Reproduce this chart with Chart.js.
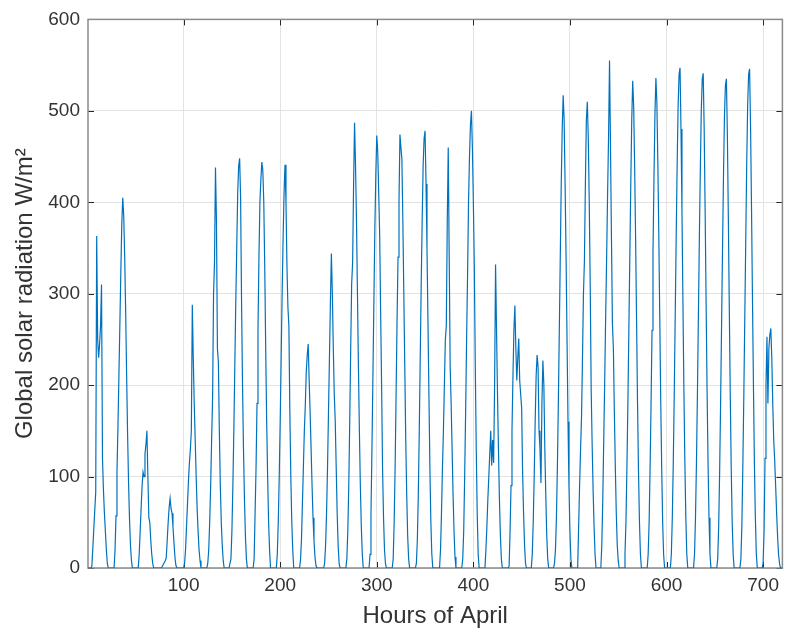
<!DOCTYPE html>
<html>
<head>
<meta charset="utf-8">
<script src="https://cdn.jsdelivr.net/npm/chart.js@4.4.0/dist/chart.umd.min.js"></script>
<style>
  body { margin: 0; background: #fff; }
  #wrap { width: 785px; height: 635px; }
</style>
</head>
<body>
<div id="wrap"><canvas id="myChart"></canvas></div>
<script>
// hourly global solar radiation in W/m2, one array per day of April (hours 1..24)
const day01 = [0,0,0,0,2,22,43,63,83,363,250,230,245,265,310,120,85,60,40,20,5,0,0,0];
const day02 = [0,0,0,0,20,57,105,154,210,267,324,377,405,385,340,280,210,146,93,53,24,8,0,0];
const day03 = [0,0,0,0,0,15,40,65,90,105,100,125,135,150,100,55,50,30,15,5,0,0,0,0];
const day04 = [0,0,0,0,0,2,4,6,8,11,30,50,66,76,65,60,45,28,12,3,0,0,0,0];
const day05 = [0,0,0,0,5,20,45,70,95,115,130,150,288,230,180,140,100,65,40,20,8,0,0,0];
const day06 = [0,0,0,0,5,20,50,90,140,186,300,335,438,380,240,225,150,90,50,25,8,0,0,0];
const day07 = [0,0,0,0,10,40,90,150,220,290,350,410,440,448,405,291,200,130,75,35,10,0,0,0];
const day08 = [0,0,0,0,10,60,110,180,260,340,400,425,444,435,400,330,240,160,100,50,20,0,0,0];
const day09 = [0,0,0,0,15,50,100,160,230,300,360,410,441,400,330,285,265,170,100,50,20,0,0,0];
const day10 = [0,0,0,0,8,30,70,110,150,178,215,233,245,205,170,130,90,55,30,12,3,0,0,0];
const day11 = [0,0,0,0,0,5,25,60,110,170,230,290,344,300,240,190,160,110,60,25,5,0,0,0];
const day12 = [0,0,0,0,10,40,90,160,240,311,334,420,487,440,380,300,220,150,90,45,15,0,0,0];
const day13 = [0,0,0,0,15,60,130,210,290,370,430,473,455,410,365,280,200,108,55,20,5,0,0,0];
const day14 = [0,0,0,0,10,50,110,190,270,340,400,474,460,447,380,300,220,140,80,35,10,0,0,0];
const day15 = [0,0,0,0,5,30,80,150,230,310,380,440,470,478,420,350,270,190,110,50,15,0,0,0];
const day16 = [0,0,0,0,0,20,60,110,150,200,250,265,380,460,340,220,180,130,80,40,12,0,0,0];
const day17 = [0,0,0,0,10,40,100,170,250,320,400,450,485,500,460,400,330,220,130,60,15,0,0,0];
const day18 = [0,0,0,0,20,45,75,100,125,150,112,140,115,200,332,260,190,130,75,35,10,0,0,0];
const day19 = [0,0,0,0,2,40,90,150,210,260,287,240,205,230,251,205,190,175,105,60,25,5,0,0];
const day20 = [0,0,0,0,15,50,100,160,210,233,220,150,130,93,180,227,200,130,80,35,10,0,0,0];
const day21 = [0,0,0,5,20,55,110,180,260,340,420,480,517,490,420,340,250,160,90,40,10,0,0,0];
const day22 = [0,0,0,0,45,90,130,165,230,300,336,420,490,510,470,400,310,195,135,85,45,15,0,0];
const day23 = [0,0,0,0,25,75,140,205,275,340,410,472,555,460,360,267,240,170,110,60,25,8,0,0];
const day24 = [0,0,0,0,15,50,110,180,260,340,420,490,533,505,440,360,270,180,105,50,15,0,0,0];
const day25 = [0,0,0,0,15,50,110,180,260,345,425,495,536,510,445,365,275,185,110,50,15,0,0,0];
const day26 = [0,0,0,0,15,55,115,190,275,360,440,505,540,547,480,390,290,195,115,55,15,0,0,0];
const day27 = [0,0,0,0,15,55,115,190,275,360,435,500,535,541,480,390,290,195,115,55,15,0,0,0];
const day28 = [0,0,0,0,10,45,105,180,265,350,430,495,528,535,475,385,285,190,110,50,15,0,0,0];
const day29 = [0,0,0,0,10,45,110,185,270,355,440,505,540,546,485,395,295,200,115,55,15,0,0,0];
const day30 = [0,0,0,5,40,120,200,253,180,240,255,262,230,180,140,118,90,60,35,15,5,0,0,0];

const xTicks = [100, 200, 300, 400, 500, 600, 700];
const yTicks = [0, 100, 200, 300, 400, 500, 600];
const xLabel = 'Hours of April';
const yLabel = 'Global solar radiation W/m²';

const days = [day01, day02, day03, day04, day05, day06, day07, day08, day09, day10,
              day11, day12, day13, day14, day15, day16, day17, day18, day19, day20,
              day21, day22, day23, day24, day25, day26, day27, day28, day29, day30];
const points = [];
days.forEach(function (d) {
    d.forEach(function (v) {
        points.push({ x: points.length + 1, y: v });
    });
});

const axisColor = '#262626';
const textColor = '#333333';
const gridColor = '#e3e3e3';
const textFont = 'Liberation Sans, Arial, sans-serif';

// matlab style box with inward tick marks
const boxPlugin = {
    id: 'box',
    beforeDatasetsDraw(chart) {
        const ctx = chart.ctx;
        const a = chart.chartArea;
        const x = chart.scales.x;
        const y = chart.scales.y;
        ctx.save();
        ctx.strokeStyle = axisColor;
        ctx.lineWidth = 1;
        x.ticks.forEach(function (t) {
            const px = Math.round(x.getPixelForValue(t.value)) + 0.5;
            ctx.beginPath();
            ctx.moveTo(px, a.bottom); ctx.lineTo(px, a.bottom - 6);
            ctx.moveTo(px, a.top); ctx.lineTo(px, a.top + 6);
            ctx.stroke();
        });
        y.ticks.forEach(function (t) {
            const py = Math.round(y.getPixelForValue(t.value)) + 0.5;
            ctx.beginPath();
            ctx.moveTo(a.left, py); ctx.lineTo(a.left + 6, py);
            ctx.moveTo(a.right, py); ctx.lineTo(a.right - 6, py);
            ctx.stroke();
        });
        ctx.strokeStyle = '#8a8a8a';
        ctx.lineWidth = 1.5;
        ctx.strokeRect(a.left, a.top, a.right - a.left, a.bottom - a.top);
        ctx.restore();
    }
};

new Chart('myChart', {
    type: 'line',
    data: {
        datasets: [{
            data: points,
            borderColor: '#0072BD',
            borderWidth: 1.2,
            pointRadius: 0,
            fill: false,
            tension: 0
        }]
    },
    options: {
        responsive: true,
        maintainAspectRatio: false,
        animation: false,
        layout: { padding: { top: 18, right: 2, left: 0, bottom: 0 } },
        plugins: { legend: { display: false }, tooltip: { enabled: false } },
        scales: {
            x: {
                type: 'linear',
                min: 1,
                max: 720,
                afterBuildTicks: function (s) { s.ticks = xTicks.map(function (v) { return { value: v }; }); },
                afterFit: function (s) { s.height = 67; },
                grid: { color: gridColor, drawTicks: false },
                border: { display: false },
                ticks: { color: textColor, padding: 6, maxRotation: 0, font: { family: textFont, size: 19 } },
                title: { display: true, text: xLabel, color: textColor, padding: { top: 0, bottom: 4 }, font: { family: textFont, size: 24 } }
            },
            y: {
                min: 0,
                max: 600,
                afterBuildTicks: function (s) { s.ticks = yTicks.map(function (v) { return { value: v }; }); },
                afterFit: function (s) { s.width = 88; },
                grid: { color: gridColor, drawTicks: false },
                border: { display: false },
                ticks: { color: textColor, padding: 8, font: { family: textFont, size: 19 } },
                title: { display: true, text: yLabel, color: textColor, padding: { top: 11, bottom: 0 }, font: { family: textFont, size: 24 } }
            }
        }
    },
    plugins: [boxPlugin]
});
</script>
</body>
</html>
